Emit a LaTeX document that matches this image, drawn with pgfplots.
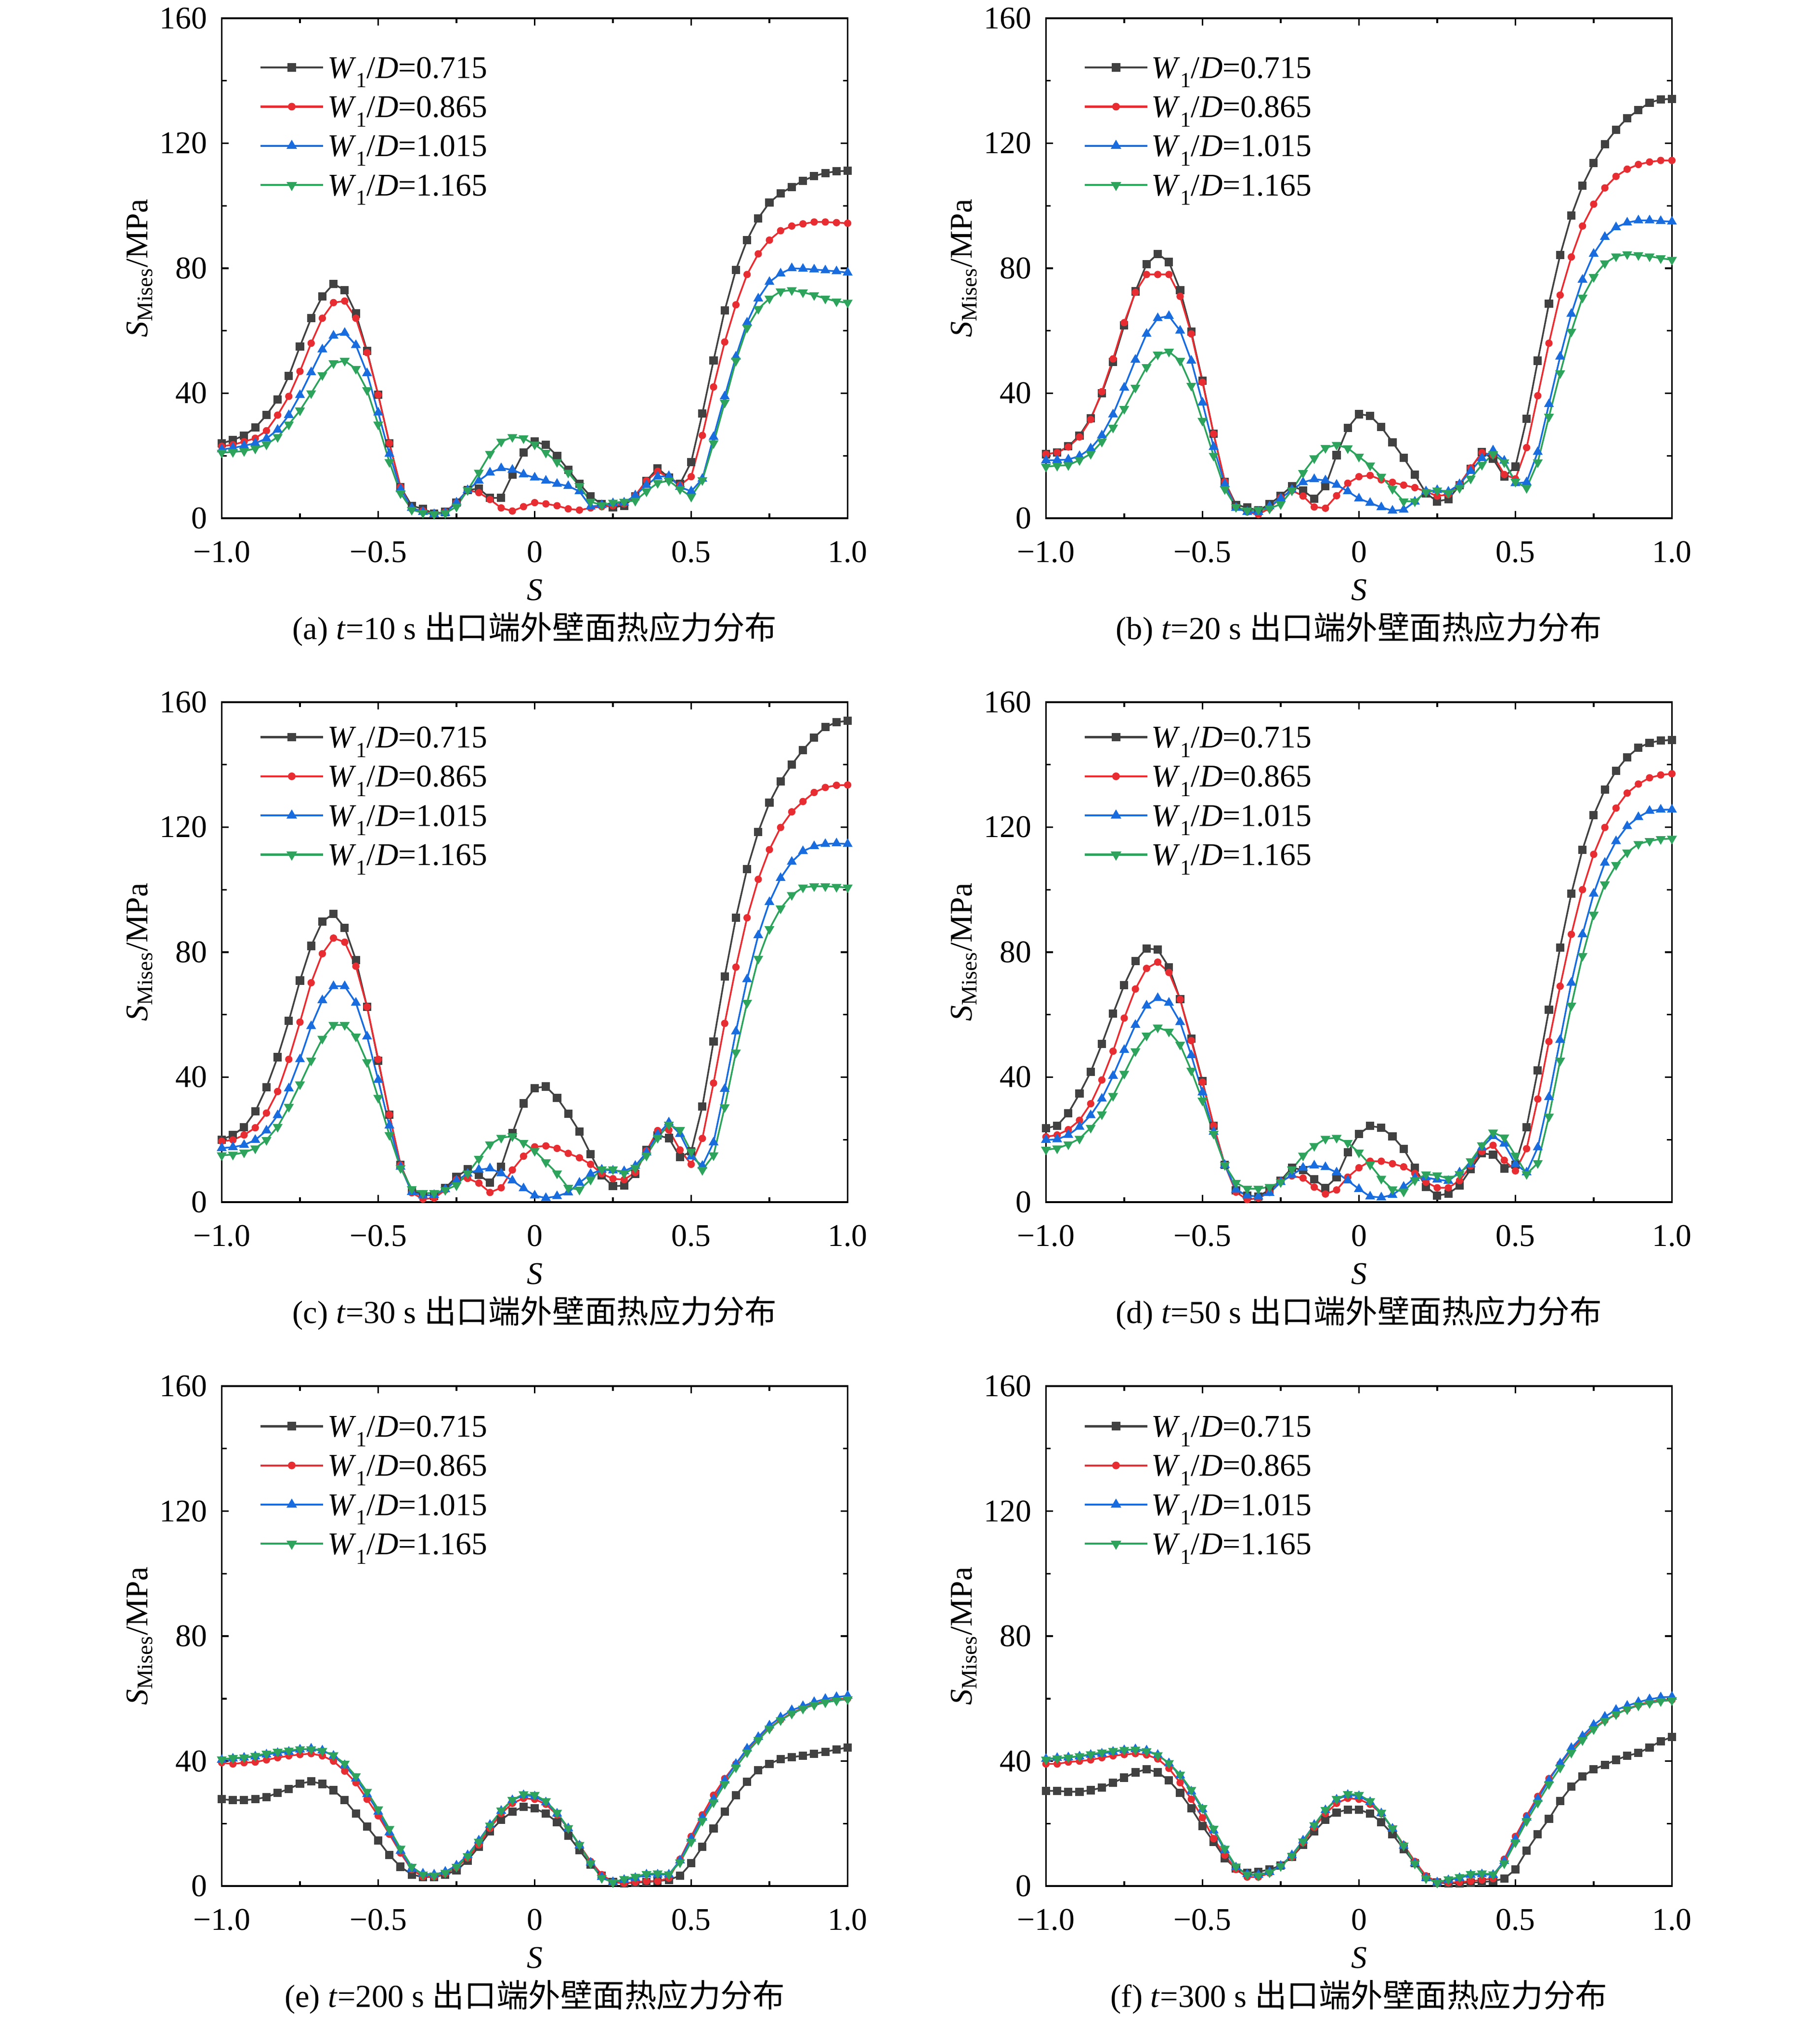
\documentclass[border=0pt]{standalone}
\usepackage{fontspec}
\setmainfont{Liberation Serif}
\newfontfamily\cjk{Noto Sans CJK SC}
\usepackage{pgfplots}
\usepackage{pgfplotstable}
\pgfplotsset{compat=1.18}

\definecolor{cblk}{RGB}{65,65,65}
\definecolor{cred}{RGB}{232,45,50}
\definecolor{cblu}{RGB}{25,108,222}
\definecolor{cgrn}{RGB}{45,163,92}

\newcommand{\legsub}[1]{\raisebox{-0.3em}{\fontsize{9.5}{10}\selectfont #1}}
\newcommand{\wdlab}[1]{\textit{W}\legsub{1}/\textit{D}=#1}

% columns: x, W1/D=0.715, 0.865, 1.015, 1.165
\pgfplotstableread{
x s1 s2 s3 s4
-1 24 23 22 21
-0.9643 25 23.5 22.5 21.2
-0.9286 26.5 24.5 23.2 21.5
-0.8929 29 25.6 24 22.3
-0.8571 33 28 25.5 23.6
-0.8214 38 33 28.3 26
-0.7857 45.5 39 33 30
-0.75 55 47 39.4 34.5
-0.7143 64 56 46.7 40
-0.6786 71 64 54 45.8
-0.6429 75 69 58.4 49.6
-0.6071 73 69.5 59.3 50.4
-0.5714 65.5 64 55.4 47.8
-0.5357 53.5 53 46.4 41
-0.5 39.5 39.5 33.8 30
-0.4643 24 24 20.6 18
-0.4286 10 10 9.3 8
-0.3929 4 3 3.3 2.7
-0.3571 3 2.4 2 1.7
-0.3214 1.5 1.3 1.3 1.3
-0.2857 2 2 1.7 1.6
-0.25 5 5 5 3.7
-0.2143 9 9 9 9
-0.1786 9.5 8.2 12 14.6
-0.1429 6.5 6 14.6 20.6
-0.1071 6.5 3.3 16 24.5
-0.0714 14 2.3 15.5 26
-0.0357 21 3.7 14 25.6
0 24.5 5 13 23.6
0.0357 23.5 4.6 12 21
0.0714 20 4 11 18
0.1071 15.5 3 10.3 14.6
0.1429 11 2.6 8.6 10.3
0.1786 7 3.3 3.7 5.3
0.2143 4.5 3.7 4.2 4.2
0.25 3.5 4 4.8 5
0.2857 4 4.6 5 5.3
0.3214 7 7.3 7.3 5.6
0.3571 12 12 10.6 8.6
0.3929 16 15 13.3 11.3
0.4286 13 13 13.5 12
0.4643 11 10.6 10 9.3
0.5 18 13.3 8.6 6.9
0.5357 33.5 26.5 12.6 12.2
0.5714 50.5 42 26 24
0.6071 66.5 56.4 39 37
0.6429 79.5 68.3 51.7 50.4
0.6786 89 78 62.6 61
0.7143 96 84.6 70.3 67
0.75 101 89 75.6 70.3
0.7857 104 92 78.3 72.6
0.8214 106 93.5 80 73
0.8571 108 94.2 79.8 72.3
0.8929 109.5 94.8 79.6 71.4
0.9286 110.5 94.8 79.3 70.3
0.9643 111 94.6 79 69.4
1 111.2 94.4 78.6 69
}\tabA

\pgfplotstableread{
x s1 s2 s3 s4
-1 20.5 20.5 18.5 16.5
-0.9643 21 21 18.6 16.8
-0.9286 23 22.8 18.8 17
-0.8929 26.5 26 19.9 18.6
-0.8571 32 31.6 22.3 20.6
-0.8214 40 40.5 26.5 24.5
-0.7857 50 51 33.2 29
-0.75 61.7 62.6 41.8 35
-0.7143 72.6 72.3 50.7 41.8
-0.6786 81.3 78 59 48.4
-0.6429 84.6 78 64 52.4
-0.6071 82 78 64.7 53.3
-0.5714 73 71 60 50.4
-0.5357 59.7 59 50.4 42.4
-0.5 44 43.5 37 31.2
-0.4643 27 27 22.8 20
-0.4286 11.7 11.7 10.9 9.3
-0.3929 4.3 3.6 3.3 3.6
-0.3571 3.4 2 2 2.5
-0.3214 2.5 1.2 2 2.7
-0.2857 4.5 3.2 3.8 3.1
-0.25 7.2 6.6 6.3 4.5
-0.2143 10.3 8.9 9.1 8.9
-0.1786 8.9 7.1 11.5 14.5
-0.1429 6.2 3.6 12.5 19.2
-0.1071 10.2 3.2 12.1 22.5
-0.0714 20.2 7.2 10.7 23.5
-0.0357 28.9 11.2 8.6 22.4
0 33.3 13.3 6.3 19.7
0.0357 32.8 13.7 4.9 16.9
0.0714 29.2 12.3 3.5 13.3
0.1071 24.3 11.5 2.4 9.4
0.1429 19.3 10.6 2.7 5.4
0.1786 13.9 9.8 5.3 5.4
0.2143 8 8.5 8.6 8.4
0.25 5.4 7.1 9 8.9
0.2857 6.1 7.6 8.5 8.1
0.3214 10.5 10.9 10.9 9.7
0.3571 15.8 16.1 15.1 12.7
0.3929 21.2 21 19.2 17.1
0.4286 19 20.2 21.7 20.5
0.4643 13.3 14 18.4 17.9
0.5 16.5 12.6 11.2 11.7
0.5357 31.8 22.6 11.5 9.7
0.5714 50.4 39.2 21.2 17.9
0.6071 68.7 56 36.5 32.5
0.6429 84.2 71.4 51.7 46.4
0.6786 96.8 83.6 65.4 59.7
0.7143 106.4 93.5 76.3 70.6
0.75 113.7 100.5 84.6 77.2
0.7857 119.7 105.7 90 81.6
0.8214 124.3 109.4 93.1 83.8
0.8571 128 111.7 94.6 84.5
0.8929 130.6 113.2 95.3 84.2
0.9286 133 114 95.3 83.8
0.9643 134 114.5 95.1 83.2
1 134.2 114.5 94.9 82.7
}\tabB

\pgfplotstableread{
x s1 s2 s3 s4
-1 20 19.5 17.3 15
-0.9643 21.5 19.9 17.6 15.2
-0.9286 24 21.5 18.3 15.9
-0.8929 29 23.8 19.9 17.2
-0.8571 36.7 28.5 22.9 19.9
-0.8214 46.4 35.4 27.8 24.1
-0.7857 58 45.7 36.4 30.5
-0.75 70.9 57.6 45.7 37.7
-0.7143 82 70.2 56.3 45.3
-0.6786 89.8 79.5 64.6 52.3
-0.6429 92.3 84.5 69.1 56.7
-0.6071 87.8 83.2 69.1 56.7
-0.5714 77.5 75.5 63.8 53
-0.5357 62.5 62.5 53 44.8
-0.5 45.3 45.7 39.1 33.4
-0.4643 28 28 24.5 21.5
-0.4286 11.9 11.9 11.3 10.9
-0.3929 3.7 3 3.2 4.2
-0.3571 2.5 1 2.1 2.9
-0.3214 2 1.3 2.3 2.9
-0.2857 4.5 3.9 4.1 3.9
-0.25 8.1 7.2 6.9 5.4
-0.2143 10.5 7.6 9.1 9.2
-0.1786 8.7 6.1 10.4 13.9
-0.1429 6.2 3.1 10.8 18.5
-0.1071 11.3 4.6 9.2 20.6
-0.0714 22.1 10.3 6.9 21.1
-0.0357 31.6 14.7 4.4 19
0 36.5 17.7 2.1 16.4
0.0357 37 18 1.3 12.8
0.0714 33.4 17.2 1.9 9.2
0.1071 28.3 15.6 3.1 4.6
0.1429 22.6 14.2 6.2 4
0.1786 15.4 12.1 9 7.2
0.2143 8.5 9.1 10.4 10.5
0.25 5.1 7.5 10.1 10.5
0.2857 5.3 7.2 9.9 9.2
0.3214 9 9.5 11.6 11
0.3571 16.7 16.4 15.9 14.9
0.3929 21.3 22.9 21.6 20.6
0.4286 20.5 23.1 25.5 24.8
0.4643 14.4 16.7 21.8 23.1
0.5 16.2 12.1 14.6 16.2
0.5357 30.6 20.4 11.6 10.3
0.5714 51.4 38.1 19.1 15
0.6071 72.2 57.2 36.2 30.4
0.6429 91 75.2 54.6 47.9
0.6786 106.6 91 71.3 63.8
0.7143 118.5 103.3 85.4 77.9
0.75 127.8 112.8 96 87.4
0.7857 134.7 119.9 103.7 94
0.8214 140 124.9 108.9 98.3
0.8571 144.7 128.2 112.3 100.7
0.8929 148.7 131.1 113.9 101.1
0.9286 152 132.7 114.6 101.1
0.9643 153.6 133.4 114.8 100.9
1 154 133.5 114.6 100.7
}\tabC

\pgfplotstableread{
x s1 s2 s3 s4
-1 23.6 20.9 19.9 16.8
-0.9643 24.5 21.5 20.1 17.2
-0.9286 28.5 23.2 21.5 18.5
-0.8929 34.7 26.2 24.1 20.3
-0.8571 41.7 31.5 27.8 23.8
-0.8214 50.6 39.1 33.1 28.1
-0.7857 60.3 48.3 40.4 34
-0.75 69.5 58.9 48.7 41.1
-0.7143 77.1 68.2 56.7 48.3
-0.6786 81.2 74.8 62.9 53.3
-0.6429 80.8 76.8 65.3 55.9
-0.6071 75.2 73.5 63.8 54.6
-0.5714 64.9 64.9 57.6 50.4
-0.5357 52.3 51.7 47 42.1
-0.5 38.7 38.4 35.1 32.5
-0.4643 24.5 24.5 22.5 21.9
-0.4286 11.9 11.9 11.9 11.9
-0.3929 3.8 3.2 4 6.2
-0.3571 2.1 0.8 2.1 4.3
-0.3214 1.8 1.3 1.8 4.3
-0.2857 4 3.1 2.9 4.9
-0.25 6.9 6.7 6.4 6.4
-0.2143 11 8.4 8.7 10.5
-0.1786 10.3 7.7 11 14.9
-0.1429 7.3 4.8 11.7 18
-0.1071 4.6 2.6 11.2 20.3
-0.0714 7.9 3.9 9.5 20.6
-0.0357 15.9 8 6.9 19
0 21.8 11 4.2 15.9
0.0357 24.4 13.1 1.8 12
0.0714 23.8 13.1 1.5 7.5
0.1071 21.1 12.3 2.3 4.1
0.1429 17 11.3 4.9 3.4
0.1786 11 9.2 7.7 7
0.2143 4.9 6.4 7.9 8.9
0.25 2.1 4.6 7.2 8.6
0.2857 2.7 4.6 6.8 7.5
0.3214 5.3 6.9 9.5 9
0.3571 10.5 11.6 12.1 13.1
0.3929 15.6 16.2 17.5 18.2
0.4286 15.2 18.2 21.1 22.3
0.4643 10.8 13.4 18.7 20.7
0.5 12 10 12.2 14.9
0.5357 24 17.1 9.5 9
0.5714 42.1 33 17.5 12.5
0.6071 61.6 51.4 33.6 27.4
0.6429 81.5 69.1 51.9 45.3
0.6786 98.7 85.7 70.2 62.9
0.7143 112.8 100 85.7 78.8
0.75 123.8 111.3 98.7 92
0.7857 132 119.9 108.6 101.7
0.8214 138 126.1 115.5 107.9
0.8571 142.4 130.9 120.3 111.9
0.8929 145.4 133.8 123.2 114.6
0.9286 147 135.8 125.2 115.6
0.9643 147.7 136.7 125.6 116.2
1 147.9 137.1 125.6 116.3
}\tabD

\pgfplotstableread{
x s1 s2 s3 s4
-1 27.8 39.5 40.4 40.6
-0.9643 27.5 39.1 40.8 41
-0.9286 27.5 39.5 41.1 41.2
-0.8929 27.8 39.7 41.5 41.7
-0.8571 28.5 40.4 42.1 42.4
-0.8214 29.8 41.1 42.6 43
-0.7857 31.1 41.7 43 43.4
-0.75 32.8 42.1 43.7 43.8
-0.7143 33.5 42.4 44 43.8
-0.6786 32.7 41.7 43.4 43.3
-0.6429 30.7 40 41.7 41.9
-0.6071 27.5 36.8 38.7 39.2
-0.5714 23.2 33.1 34.4 35.2
-0.5357 19 27.8 29.4 30.2
-0.5 14.6 22.5 23.8 24.6
-0.4643 9.9 16.6 17.2 18.3
-0.4286 6.2 10.6 11.3 12
-0.3929 3.7 5.3 5.6 6.2
-0.3571 2.9 3 4 3.7
-0.3214 2.9 3 3.7 3.4
-0.2857 3.7 4 4.6 4.3
-0.25 5 6 6.6 6.2
-0.2143 8.2 9 9.9 9.6
-0.1786 12.6 13.2 14.6 14.2
-0.1429 17.5 18.5 19.6 19.4
-0.1071 21.2 23.2 24.1 24.2
-0.0714 23.8 26.5 27.5 27.6
-0.0357 25.4 28.1 29.1 29.4
0 24.9 27.8 28.7 29.2
0.0357 23.2 26.2 26.8 27.2
0.0714 20.5 22.8 23.2 23.5
0.1071 16.2 18.5 18.5 18.6
0.1429 11.5 13.2 13 13.2
0.1786 6.9 7.9 7.5 7.3
0.2143 3.3 3.7 2.9 2.6
0.25 1.3 1.3 1.3 1.2
0.2857 0.9 0.9 2 2.3
0.3214 1.1 1.3 2.6 3
0.3571 1.3 1.6 3.7 3.9
0.3929 1.6 1.6 3.7 4.1
0.4286 2 2.6 3.7 3.8
0.4643 3.3 8.6 8.2 7.6
0.5 7.3 15.9 15.2 14.2
0.5357 12.6 22.8 21.9 20.9
0.5714 18.5 29.1 27.8 26.8
0.6071 23.8 34.4 33.8 32.7
0.6429 29.1 39.1 39.1 38
0.6786 33.4 43.7 44 42.8
0.7143 37.1 47.3 47.7 46.8
0.75 39.1 50.6 51.4 50.4
0.7857 40.7 53.2 54 53.1
0.8214 41.3 55.4 56.3 55.2
0.8571 41.7 57 57.6 56.8
0.8929 42.4 58.3 58.9 58
0.9286 43 59.2 59.9 58.8
0.9643 43.7 59.9 60.5 59.4
1 44.4 60 60.9 59.8
}\tabE

\pgfplotstableread{
x s1 s2 s3 s4
-1 30.5 39.1 40.7 40.5
-0.9643 30.5 39.1 41 40.9
-0.9286 30.2 39.7 41.2 41.2
-0.8929 30.2 40 41.5 41.6
-0.8571 30.7 40.4 42 42.2
-0.8214 31.5 41.1 42.4 42.8
-0.7857 33.1 41.7 43 43.3
-0.75 34.7 42.1 43.5 43.6
-0.7143 36.4 42.4 43.8 43.7
-0.6786 37.4 42 43.4 43.2
-0.6429 36.4 40.7 42 41.9
-0.6071 33.8 37.7 39.3 39.4
-0.5714 29.8 33.1 35.4 35.7
-0.5357 24.9 27.8 30.3 30.8
-0.5 19.2 21.9 24.6 25
-0.4643 14.2 15.2 17.8 18.4
-0.4286 8.9 9.9 11.5 12
-0.3929 5.6 5.3 6 6.3
-0.3571 4.2 2.9 3.8 3.7
-0.3214 4.6 2.9 3.6 3.4
-0.2857 5.3 4.2 4.5 4.4
-0.25 6.6 6.6 6.5 6.4
-0.2143 9.3 9.3 9.9 9.7
-0.1786 13.2 13.9 14.6 14.3
-0.1429 17.5 18.8 19.6 19.5
-0.1071 21.2 23.2 24.3 24.4
-0.0714 23.6 26.5 27.7 27.9
-0.0357 24.5 28.1 29.2 29.5
0 24.5 27.8 28.8 29.2
0.0357 23.2 26.2 26.9 27.2
0.0714 20.5 23.2 23.3 23.5
0.1071 16.6 18.5 18.4 18.5
0.1429 11.9 13.2 12.9 13
0.1786 7.3 7.9 7.3 7.2
0.2143 2.9 3.3 2.6 2.5
0.25 1.1 1.3 1.2 1.1
0.2857 0.9 1.1 1.9 2.2
0.3214 0.9 1.3 2.6 2.9
0.3571 1.1 1.6 3.6 3.9
0.3929 1.3 2 3.8 4.1
0.4286 1.6 2.4 3.6 3.8
0.4643 2.4 8.6 8 7.3
0.5 5.3 15.9 15 14
0.5357 11.3 22.5 21.9 20.8
0.5714 16.6 28.7 27.9 26.7
0.6071 21.5 34.4 33.9 32.6
0.6429 27.2 39.1 39.3 37.9
0.6786 31.8 43.7 44.2 42.7
0.7143 35.1 47.3 48 46.7
0.75 37.4 50.6 51.6 50.2
0.7857 38.8 53 54.2 52.9
0.8214 40.4 55 56.4 55
0.8571 41.7 56.7 57.7 56.6
0.8929 42.6 58 58.9 57.8
0.9286 44.4 58.9 59.8 58.6
0.9643 46.4 59.6 60.4 59.2
1 47.7 59.6 60.6 59.5
}\tabF

\pgfplotsset{
  ser1/.style={color=cblk, line width=0.75pt, mark=square*, mark size=1.45pt, mark options={solid, fill=cblk}},
  ser2/.style={color=cred, line width=0.75pt, mark=*, mark size=1.25pt, mark options={solid, fill=cred}},
  ser3/.style={color=cblu, line width=0.75pt, mark=triangle*, mark size=1.8pt, mark options={solid, fill=cblu}},
  ser4/.style={color=cgrn, line width=0.75pt, mark=triangle*, mark size=1.8pt, mark options={solid, fill=cgrn, rotate=180}},
  panel/.style={
    scale only axis, width=9.75cm, height=7.786cm,
    anchor=north west,
    xmin=-1, xmax=1, ymin=0, ymax=160,
    xtick={-1,-0.5,0,0.5,1}, xticklabels={−1.0,−0.5,0,0.5,1.0},
    ytick={0,40,80,120,160}, yticklabels={0,40,80,120,160},
    minor x tick num=1, minor y tick num=1,
    tick align=inside,
    major tick length=0.11cm, minor tick length=0.075cm,
    every tick/.style={black, line width=0.7pt},
    axis line style={line width=0.75pt},
    ticklabel style={font=\fontsize{14}{14}\selectfont},
    xticklabel style={anchor=base, yshift=-0.685cm},
    yticklabel style={anchor=east, inner sep=0pt, xshift=-0.22cm},
    xlabel={\textit{S}},
    xlabel style={at={(axis description cs:0.5,0)}, anchor=center, yshift=-1.12cm, font=\fontsize{14}{14}\selectfont},
    ylabel={\textit{S}\textsubscript{Mises}/MPa},
    ylabel style={at={(axis description cs:-0.131,0.5)}, anchor=center, font=\fontsize{14}{14}\selectfont},
    legend cell align=left,
    legend style={draw=none, fill=none, anchor=north west, inner sep=0pt, outer sep=0pt,
      font=\fontsize{14}{16}\selectfont, row sep=0pt, column sep=0.05cm,
      nodes={inner sep=0pt, text height=0.47cm, text depth=0.14cm}},
    legend image code/.code={\draw[line width=0.9pt, mark repeat=2,mark phase=2] plot coordinates {(0cm,0cm) (0.49cm,0cm) (0.98cm,0cm)};},
  },
}

\newcommand{\fourplots}[1]{%
  \addplot[ser1] table[x=x,y=s1]{#1};
  \addplot[ser2] table[x=x,y=s2]{#1};
  \addplot[ser3] table[x=x,y=s3]{#1};
  \addplot[ser4] table[x=x,y=s4]{#1};
  \legend{\wdlab{0.715},\wdlab{0.865},\wdlab{1.015},\wdlab{1.165}}
}

\begin{document}
\begin{tikzpicture}
\useasboundingbox (0,0) rectangle (28.35,-31.425);

\begin{axis}[panel, at={(3.454cm,-0.284cm)}, legend style={at={(axis description cs:0.060,0.9407)}}]
\fourplots{\tabA}
\end{axis}
\begin{axis}[panel, at={(16.293cm,-0.284cm)}, legend style={at={(axis description cs:0.060,0.9407)}}]
\fourplots{\tabB}
\end{axis}
\begin{axis}[panel, at={(3.454cm,-10.934cm)}, legend style={at={(axis description cs:0.060,0.9692)}}]
\fourplots{\tabC}
\end{axis}
\begin{axis}[panel, at={(16.293cm,-10.934cm)}, legend style={at={(axis description cs:0.060,0.9692)}}]
\fourplots{\tabD}
\end{axis}
\begin{axis}[panel, at={(3.454cm,-21.585cm)}, legend style={at={(axis description cs:0.060,0.9589)}}]
\fourplots{\tabE}
\end{axis}
\begin{axis}[panel, at={(16.293cm,-21.585cm)}, legend style={at={(axis description cs:0.060,0.9589)}}]
\fourplots{\tabF}
\end{axis}

\begin{scope}[every node/.style={font=\fontsize{14.2}{16}\selectfont, anchor=center, inner sep=0pt}]
\node at (8.329,-9.795) {(a) \textit{t}=10 s {\cjk 出口端外壁面热应力分布}};
\node at (21.168,-9.795) {(b) \textit{t}=20 s {\cjk 出口端外壁面热应力分布}};
\node at (8.329,-20.445) {(c) \textit{t}=30 s {\cjk 出口端外壁面热应力分布}};
\node at (21.168,-20.445) {(d) \textit{t}=50 s {\cjk 出口端外壁面热应力分布}};
\node at (8.329,-31.095) {(e) \textit{t}=200 s {\cjk 出口端外壁面热应力分布}};
\node at (21.168,-31.095) {(f) \textit{t}=300 s {\cjk 出口端外壁面热应力分布}};
\end{scope}
\end{tikzpicture}
\end{document}
